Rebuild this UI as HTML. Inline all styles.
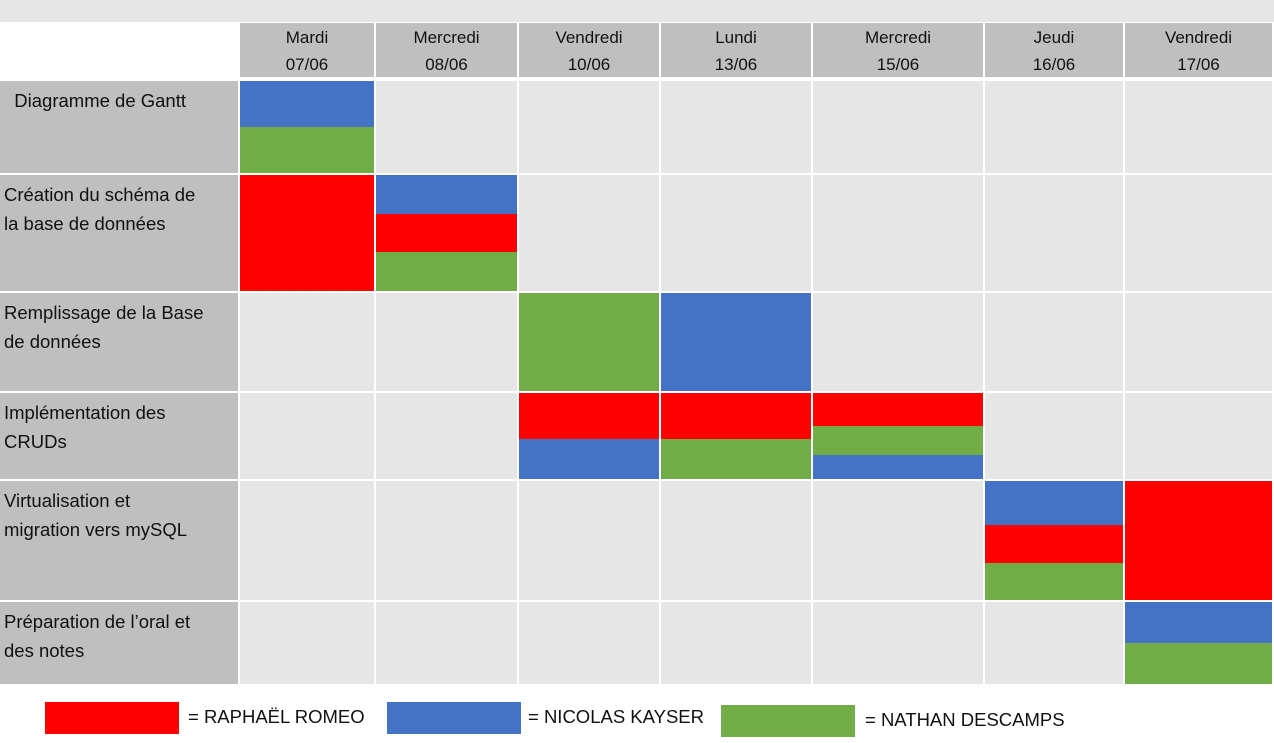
<!DOCTYPE html>
<html><head><meta charset="utf-8"><style>
body{margin:0;width:1274px;height:743px;background:#fff;position:relative;overflow:hidden;font-family:"Liberation Sans",sans-serif;}
.a{position:absolute;box-sizing:border-box;}
.hd{background:#bfbfbf;text-align:center;font-size:17px;line-height:27px;color:#111;padding-top:1px;}
.lb{background:#bfbfbf;font-size:18.5px;line-height:29px;color:#111;padding:5px 0 0 4px;white-space:nowrap;}
.cl{background:#e6e6e6;}
.lg{font-size:18.5px;line-height:32px;color:#111;}
</style></head><body>
<div class="a" style="left:0;top:0;width:1274px;height:22px;background:#e6e6e6"></div>
<div id="g"></div>
<script>
const days=["Mardi<br>07/06","Mercredi<br>08/06","Vendredi<br>10/06","Lundi<br>13/06","Mercredi<br>15/06","Jeudi<br>16/06","Vendredi<br>17/06"];
const tasks=["&nbsp;&nbsp;Diagramme de Gantt","Création du schéma de<br>la base de données","Remplissage de la Base<br>de données","Implémentation des<br>CRUDs","Virtualisation et<br>migration vers mySQL","Préparation de l’oral et<br>des notes"];
const people=["RAPHAËL ROMEO","NICOLAS KAYSER","NATHAN DESCAMPS"];
const barTask=[0,0,1,1,1,1,2,2,3,3,3,3,3,3,3,4,4,4,4,5,5];
const barDay=[0,0,0,1,1,1,2,3,2,2,3,3,4,4,4,5,5,5,6,6,6];
const barPerson=[1,2,0,1,0,2,2,1,0,1,0,2,0,2,1,1,0,2,0,1,2];
const barStart=[0,0.49,0,0,0.33,0.65,0,0,0,0.52,0,0.52,0,0.38,0.7,0,0.36,0.68,0,0,0.49];
const barEnd=[0.49,1,1,0.33,0.65,1,1,1,0.52,1,0.52,1,0.38,0.7,1,0.36,0.68,1,1,0.49,1];
const colX=[240,376,519,661,813,985,1125,1274];
const rowY=[81,175,293,393,481,602,686];
const colors=["#ff0000","#4472c4","#70ad47"];
const g=document.getElementById('g');
function add(cls,x,y,w,h,html,bg){const d=document.createElement('div');d.className='a '+cls;d.style.left=x+'px';d.style.top=y+'px';d.style.width=w+'px';d.style.height=h+'px';if(bg)d.style.background=bg;if(html)d.innerHTML=html;g.appendChild(d);return d;}
const dayX=i=>colX[i], dayW=i=>colX[i+1]-colX[i]-2;
const rowTop=i=>rowY[i], rowH=i=>rowY[i+1]-rowY[i]-2;
days.forEach((t,i)=>{const d=add('hd',dayX(i),23,dayW(i),54,t);

});
tasks.forEach((t,r)=>{const d=add('lb',0,rowTop(r),238,rowH(r),t);


for(let c=0;c<days.length;c++){const e=add('cl',dayX(c),rowTop(r),dayW(c),rowH(r));

}});
barTask.forEach((t,i)=>{const h=rowH(t)+2;const y=rowTop(t)+barStart[i]*h;const y2=rowTop(t)+barEnd[i]*h-(barEnd[i]===1?2:0);
const d=add('',dayX(barDay[i]),y,dayW(barDay[i]),y2-y,'',colors[barPerson[i]]);

});
const legX=[45,387,721],legTX=[188,528,865],legY=[702,702,705];
people.forEach((p,i)=>{const s=add('',legX[i],legY[i],134,32,'',colors[i]);


const t=add('lg',legTX[i],legY[i]-1,330,32,'= '+p);

});
</script>
</body></html>
